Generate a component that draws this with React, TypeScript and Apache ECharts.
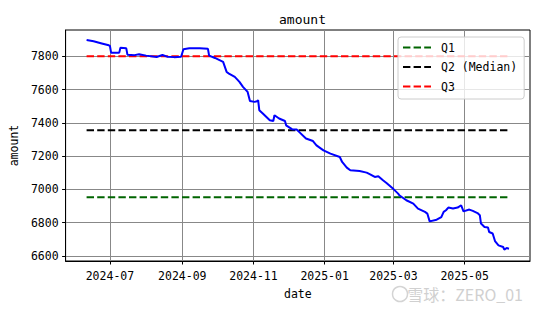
import React, { useEffect, useRef } from "react";
import * as echarts from "echarts";

const dates = [
  "2024-06-11", "2024-06-17", "2024-06-24", "2024-06-30", "2024-07-01", "2024-07-02",
  "2024-07-09", "2024-07-10", "2024-07-15", "2024-07-16", "2024-07-22", "2024-07-26",
  "2024-08-01", "2024-08-10", "2024-08-15", "2024-08-19", "2024-08-25", "2024-08-31",
  "2024-09-02", "2024-09-07", "2024-09-16", "2024-09-23", "2024-09-24", "2024-09-29",
  "2024-10-06", "2024-10-09", "2024-10-11", "2024-10-16", "2024-10-20", "2024-10-23",
  "2024-10-27", "2024-10-29", "2024-11-02", "2024-11-04", "2024-11-05", "2024-11-06",
  "2024-11-09", "2024-11-15", "2024-11-18", "2024-11-19", "2024-11-23", "2024-11-28",
  "2024-11-29", "2024-12-04", "2024-12-08", "2024-12-11", "2024-12-16", "2024-12-22",
  "2024-12-25", "2024-12-31", "2025-01-06", "2025-01-14", "2025-01-16", "2025-01-20",
  "2025-01-23", "2025-01-31", "2025-02-06", "2025-02-09", "2025-02-13", "2025-02-16",
  "2025-02-20", "2025-02-23", "2025-03-01", "2025-03-05", "2025-03-06", "2025-03-12",
  "2025-03-18", "2025-03-22", "2025-03-28", "2025-03-30", "2025-04-01", "2025-04-07",
  "2025-04-11", "2025-04-13", "2025-04-15", "2025-04-17", "2025-04-21", "2025-04-25",
  "2025-04-28", "2025-04-30", "2025-05-05", "2025-05-08", "2025-05-12", "2025-05-14",
  "2025-05-15", "2025-05-18", "2025-05-21", "2025-05-22", "2025-05-25", "2025-05-27",
  "2025-05-30", "2025-06-03", "2025-06-04", "2025-06-06", "2025-06-08",
];
const amounts = [
  7898, 7890, 7877, 7866, 7862, 7822,
  7822, 7852, 7848, 7810, 7807, 7812,
  7804, 7796, 7808, 7798, 7795, 7797,
  7842, 7848, 7848, 7845, 7804, 7790,
  7766, 7706, 7696, 7676, 7646, 7616,
  7586, 7532, 7526, 7530, 7536, 7476,
  7456, 7416, 7411, 7446, 7426, 7411,
  7385, 7362, 7360, 7340, 7306, 7291,
  7265, 7235, 7215, 7195, 7165, 7131,
  7115, 7111, 7101, 7091, 7075, 7079,
  7055, 7039, 7002, 6975, 6965, 6935,
  6915, 6885, 6865, 6855, 6808, 6818,
  6834, 6865, 6875, 6891, 6885, 6891,
  6905, 6868, 6879, 6871, 6858, 6845,
  6795, 6774, 6771, 6744, 6735, 6690,
  6664, 6654, 6638, 6648, 6644,
];
const q1 = 6953;
const q2 = 7356;
const q3 = 7800;
const xTickMonths = ["2024-07", "2024-09", "2024-11", "2025-01", "2025-03", "2025-05"];
const yTicks = [6600, 6800, 7000, 7200, 7400, 7600, 7800];
const xMin = "2024-05-24";
const xMax = "2025-06-26";
const yMin = 6570;
const yMax = 7958;

const FONT = "'DejaVu Sans Mono', monospace";

function toTs(s: string): number {
  const p = s.split("-").map(Number);
  return new Date(p[0], p[1] - 1, p[2] || 1).getTime();
}

export default function App() {
  const ref = useRef<HTMLDivElement>(null);
  useEffect(() => {
    if (!ref.current) return;
    const chart = echarts.init(ref.current, undefined, { renderer: "svg" });
    const first = toTs(dates[0]);
    const last = toTs(dates[dates.length - 1]);
    const dash = [7.4, 3.2];
    const xTickVals = xTickMonths.map(toTs);
    const option: any = {
      animation: false,
      backgroundColor: "#ffffff",
      title: {
        text: "amount",
        left: 274,
        top: 8,
        textStyle: { fontFamily: FONT, fontSize: 13, fontWeight: "normal", color: "#000" },
      },
      grid: {
        left: 65,
        top: 30,
        right: 10,
        bottom: 49,
        show: true,
        borderColor: "#000",
        borderWidth: 1,
        backgroundColor: "transparent",
      },
      legend: {
        orient: "vertical",
        left: 398,
        top: 37,
        data: ["Q1", "Q2 (Median)", "Q3"],
        itemWidth: 28,
        itemHeight: 13,
        itemGap: 4.5,
        padding: [3, 7, 5, 4],
        backgroundColor: "rgba(255,255,255,0.8)",
        borderColor: "#cccccc",
        borderWidth: 1,
        borderRadius: 3,
        itemStyle: { opacity: 0 },
        textStyle: {
          fontFamily: FONT,
          fontSize: 11.5,
          color: "#000",
          padding: [0, 0, 0, 5],
          lineHeight: 15,
        },
      },
      xAxis: {
        type: "value",
        min: toTs(xMin),
        max: toTs(xMax),
        name: "date",
        nameLocation: "middle",
        nameGap: 27,
        nameTextStyle: { fontFamily: FONT, fontSize: 11.5, color: "#000" },
        axisLine: { show: true, onZero: false, lineStyle: { color: "#000", width: 1 } },
        axisTick: { show: true, customValues: xTickVals, length: 3.5, lineStyle: { color: "#000" } },
        axisLabel: {
          customValues: xTickVals,
          fontFamily: FONT,
          fontSize: 11.5,
          color: "#000",
          margin: 9,
          formatter: (v: number) => {
            const d = new Date(v);
            return d.getFullYear() + "-" + String(d.getMonth() + 1).padStart(2, "0");
          },
        },
        splitLine: { show: true, lineStyle: { color: "#888888", width: 1 } },
      },
      yAxis: {
        type: "value",
        min: yMin,
        max: yMax,
        name: "amount",
        nameLocation: "middle",
        nameGap: 42,
        nameTextStyle: { fontFamily: FONT, fontSize: 11.5, color: "#000" },
        axisLine: { show: true, lineStyle: { color: "#000", width: 1 } },
        axisTick: { show: true, customValues: yTicks, length: 3.5, lineStyle: { color: "#000" } },
        axisLabel: {
          customValues: yTicks,
          fontFamily: FONT,
          fontSize: 11.5,
          color: "#000",
          margin: 7,
          formatter: (v: number) => String(v),
        },
        splitLine: { show: true, lineStyle: { color: "#888888", width: 1 } },
      },
      series: [
        {
          name: "amount",
          type: "line",
          data: dates.map((d, i) => [toTs(d), amounts[i]]),
          showSymbol: false,
          symbol: "none",
          lineStyle: { color: "#0000ff", width: 2 },
          z: 3,
        },
        {
          name: "Q1",
          type: "line",
          data: [[first, q1], [last, q1]],
          symbol: "none",
          itemStyle: { color: "#006400" },
          lineStyle: { color: "#006400", width: 2, type: dash },
          z: 2,
        },
        {
          name: "Q2 (Median)",
          type: "line",
          data: [[first, q2], [last, q2]],
          symbol: "none",
          itemStyle: { color: "#000000" },
          lineStyle: { color: "#000000", width: 2, type: dash },
          z: 2,
        },
        {
          name: "Q3",
          type: "line",
          data: [[first, q3], [last, q3]],
          symbol: "none",
          itemStyle: { color: "#ff0000" },
          lineStyle: { color: "#ff0000", width: 2, type: dash },
          z: 2,
        },
      ],
      graphic: [
        {
          type: "circle",
          shape: { cx: 400, cy: 294, r: 7.5 },
          style: { fill: "none", stroke: "#d4d4d4", lineWidth: 1.5 },
          z: 10,
        },
        {
          type: "text",
          x: 523,
          y: 294,
          style: {
            text: "雪球：ZERO_01",
            fontFamily: "'Noto Sans CJK SC', sans-serif",
            fontSize: 16,
            fill: "#d0d0d0",
            textAlign: "right",
            textVerticalAlign: "middle",
          },
          z: 10,
        },
      ],
    };
    chart.setOption(option);
    return () => chart.dispose();
  }, []);
  return (
    <div
      ref={ref}
      style={{ position: "fixed", left: 0, top: 0, width: 540, height: 310, background: "#fff" }}
    />
  );
}
